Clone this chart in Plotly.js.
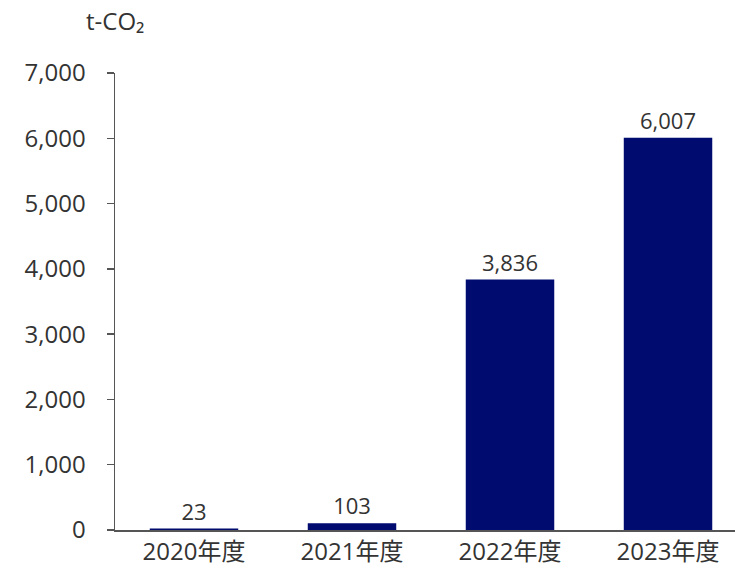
<!DOCTYPE html>
<html>
<head>
<meta charset="utf-8">
<script src="https://cdn.plot.ly/plotly-3.0.1.min.js"></script>
<style>html,body{margin:0;padding:0;background:#fff;}#chart{width:735px;height:568px;}</style>
</head>
<body>
<div id="chart"></div>
<script>
const categories = ["2020年度", "2021年度", "2022年度", "2023年度"];
const values = [23, 103, 3836, 6007];
const valueLabels = ["23", "103", "3,836", "6,007"];
const yTickVals = [0, 1000, 2000, 3000, 4000, 5000, 6000, 7000];
const yTickText = ["0", "1,000", "2,000", "3,000", "4,000", "5,000", "6,000", "7,000"];
const unitLabel = "t-CO₂";

const fontFam = "'Open Sans', 'Noto Sans CJK JP', sans-serif";

Plotly.newPlot("chart", [{
  type: "bar",
  x: categories,
  y: values,
  text: valueLabels,
  textposition: "outside",
  cliponaxis: false,
  textfont: {family: fontFam, size: 22, color: "#333333"},
  marker: {color: "#000b6f"},
  hoverinfo: "none"
}], {
  width: 735,
  height: 568,
  margin: {l: 115, r: 0, t: 73, b: 38},
  paper_bgcolor: "#ffffff",
  plot_bgcolor: "#ffffff",
  bargap: 0.44,
  showlegend: false,
  font: {family: fontFam, color: "#333333"},
  xaxis: {
    type: "category",
    range: [-0.5, 3.424],
    showline: true,
    linecolor: "#555555",
    linewidth: 1.5,
    ticks: "",
    showgrid: false,
    zeroline: false,
    tickfont: {family: fontFam, size: 24, color: "#333333"}
  },
  yaxis: {
    range: [0, 7000],
    tickvals: yTickVals,
    ticktext: yTickText,
    showline: true,
    linecolor: "#555555",
    linewidth: 1.5,
    ticks: "outside",
    ticklen: 7,
    tickwidth: 1.5,
    tickcolor: "#555555",
    ticklabelstandoff: 16,
    showgrid: false,
    zeroline: false,
    tickfont: {family: fontFam, size: 24, color: "#333333"}
  },
  annotations: [{
    text: unitLabel,
    xref: "paper", yref: "paper",
    x: 0.0, y: 1.0, yshift: 53,
    xanchor: "center", yanchor: "middle",
    showarrow: false,
    font: {family: fontFam, size: 24, color: "#333333"}
  }]
}, {staticPlot: true});
</script>
</body>
</html>
